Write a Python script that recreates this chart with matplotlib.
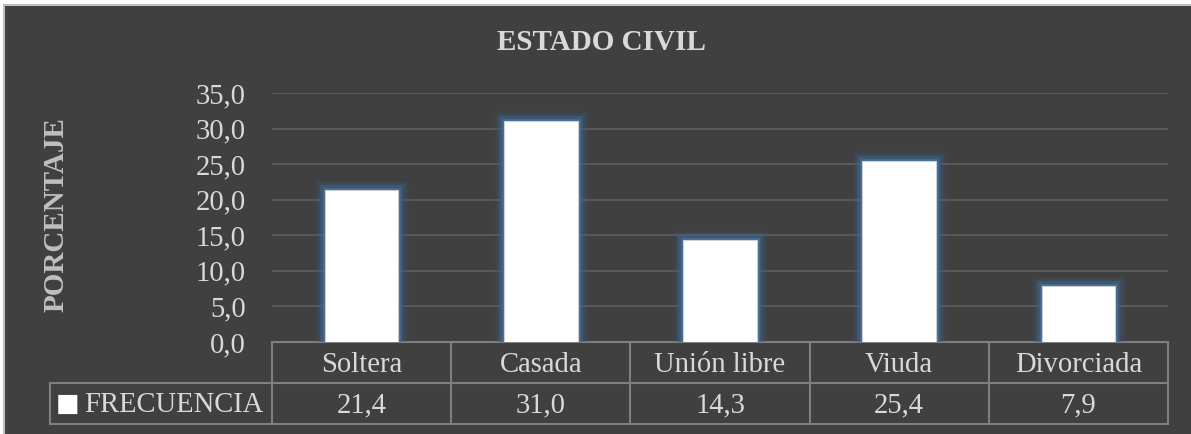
import matplotlib.pyplot as plt
import matplotlib.patheffects as pe
from matplotlib.patches import Rectangle

categorias = ["Soltera", "Casada", "Unión libre", "Viuda", "Divorciada"]
frecuencia = [21.4, 31.0, 14.3, 25.4, 7.9]
yticks = [0, 5, 10, 15, 20, 25, 30, 35]

plt.rcParams['font.family'] = ['Liberation Serif', 'DejaVu Sans']

fondo = '#404040'
texto = '#d9d9d9'
lineas = '#7f7f7f'

fig = plt.figure(figsize=(11.91, 4.34), dpi=100)
fig.patch.set_facecolor('white')
fig.patches.append(Rectangle((4 / 1191, -0.01), 1.0, 1 - 5 / 434 + 0.01,
                             transform=fig.transFigure, facecolor=fondo,
                             edgecolor='#bfbfbf', linewidth=1.5, zorder=-10))

ax = fig.add_axes([272 / 1191, 92 / 434, 896 / 1191, 249 / 434])
ax.set_facecolor('none')

# resplandor azul alrededor de las barras
glow = [pe.Stroke(linewidth=15, foreground='#3a5a7c', alpha=0.12),
        pe.Stroke(linewidth=11, foreground='#3b5f85', alpha=0.28),
        pe.Stroke(linewidth=7, foreground='#3f6690', alpha=0.5),
        pe.Stroke(linewidth=3.5, foreground='#46709c', alpha=0.8),
        pe.Normal()]
x = range(len(categorias))
bars = ax.bar(x, frecuencia, width=0.41, color='white',
              edgecolor='#cfcfcf', linewidth=0.8, zorder=3)
for b in bars:
    b.set_path_effects(glow)

ax.set_xlim(-0.5, len(categorias) - 0.5)
ax.set_ylim(0, 35)
ax.set_yticks(yticks)
ax.set_yticklabels([("%.1f" % v).replace('.', ',') for v in yticks])
ax.tick_params(axis='y', length=0, pad=19, labelsize=20.6, labelcolor=texto)
ax.set_xticks([])
ax.grid(axis='y', color='#5a5a5a', linewidth=1.4, zorder=0)
for s in ax.spines.values():
    s.set_visible(False)

# tabla de datos bajo el eje (x en datos, y en fracción del eje)
tr = ax.get_xaxis_transform()
h = 41 / 249
d = 2 / 249
n = len(categorias)
izq = -0.5 - 222 / 179.2
kw = dict(transform=tr, clip_on=False, color=lineas, linewidth=1.5)
ax.plot([-0.5, n - 0.5], [0, 0], **kw)
ax.plot([izq, n - 0.5], [-h, -h], **kw)
ax.plot([izq, n - 0.5], [-2 * h, -2 * h], **kw)
for i in range(n + 1):
    ax.plot([i - 0.5, i - 0.5], [0, -2 * h], **kw)
ax.plot([izq, izq], [-h, -2 * h], **kw)

for i, (cat, v) in enumerate(zip(categorias, frecuencia)):
    ax.text(i, -h / 2 - d, cat, transform=tr, ha='center', va='center',
            fontsize=20.6, color=texto)
    ax.text(i, -1.5 * h - d, ("%.1f" % v).replace('.', ','), transform=tr,
            ha='center', va='center', fontsize=20.6, color=texto)

ax.text(izq + 6 / 179.2, -1.5 * h, '■', transform=tr, color='white',
        fontsize=18, family='DejaVu Sans', ha='left', va='center')
ax.text(-0.5 - 9 / 179.2, -1.5 * h - d, 'FRECUENCIA', transform=tr, color=texto,
        fontsize=20.6, ha='right', va='center')

fig.text(601 / 1191, 1 - 43 / 434, 'ESTADO CIVIL', ha='center', va='center',
         fontsize=21, fontweight='bold', color=texto)
fig.text(56 / 1191, 1 - 215 / 434, 'PORCENTAJE', ha='center', va='center',
         rotation=90, fontsize=21, fontweight='bold', color='#bfbfbf')

plt.savefig('out.png', dpi=100, facecolor=fig.get_facecolor())
plt.close()
